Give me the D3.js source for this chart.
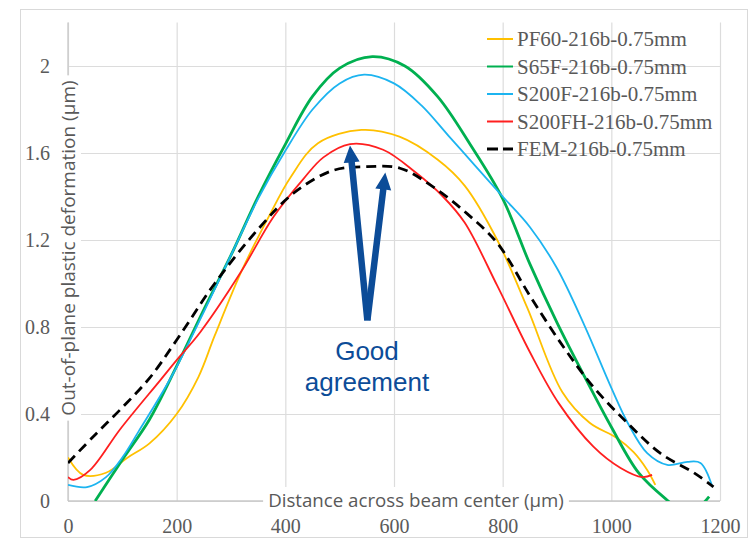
<!DOCTYPE html>
<html>
<head>
<meta charset="utf-8">
<script src="https://cdn.jsdelivr.net/npm/d3@7"></script>
<style>
  html, body { margin: 0; padding: 0; background: #fff; }
  svg { display: block; }
</style>
</head>
<body>
<svg id="chart" width="755" height="540"></svg>
<script>
// tick values
var xTicks = [0, 200, 400, 600, 800, 1000, 1200];
var yTicks = [0, 0.4, 0.8, 1.2, 1.6, 2];

// [distance (µm), deformation (µm)] for each run
var pf60 = [[0, 0.20], [28, 0.12], [70, 0.13], [110, 0.2], [150, 0.265], [200, 0.40], [240, 0.57],
  [270, 0.76], [320, 1.06], [370, 1.31], [410, 1.49], [460, 1.645], [540, 1.706], [610, 1.675],
  [680, 1.57], [730, 1.45], [790, 1.20], [845, 0.89], [910, 0.50], [960, 0.36], [1010, 0.29],
  [1041, 0.225], [1066, 0.143], [1081, 0.074]];
var s65f = [[50, 0], [100, 0.19], [150, 0.375], [200, 0.62], [250, 0.88], [300, 1.13], [350, 1.40],
  [400, 1.64], [450, 1.86], [500, 1.99], [560, 2.043], [620, 2.00], [680, 1.86], [740, 1.64],
  [800, 1.39], [850, 1.09], [900, 0.82], [950, 0.575], [1000, 0.34], [1050, 0.13], [1100, 0.01],
  [1140, -0.06], [1165, -0.02], [1180, 0.02]];
var s200f = [[0, 0.074], [35, 0.064], [70, 0.11], [100, 0.2], [130, 0.32], [190, 0.57], [250, 0.87],
  [300, 1.13], [350, 1.39], [400, 1.61], [450, 1.80], [500, 1.92], [545, 1.96], [600, 1.92],
  [650, 1.82], [700, 1.68], [750, 1.54], [800, 1.40], [850, 1.26], [900, 1.07], [950, 0.81],
  [1000, 0.52], [1030, 0.36], [1066, 0.22], [1103, 0.166], [1140, 0.18], [1164, 0.175], [1186, 0.065]];
var s200fh = [[0, 0.11], [10, 0.097], [41, 0.143], [96, 0.33], [170, 0.556], [200, 0.648], [243, 0.775],
  [317, 1.048], [378, 1.306], [433, 1.48], [470, 1.58], [519, 1.641], [580, 1.615], [640, 1.51],
  [690, 1.40], [730, 1.28], [790, 0.99], [850, 0.685], [903, 0.45], [967, 0.25], [1017, 0.152],
  [1057, 0.11], [1075, 0.12]];
var fem = [[0, 0.175], [50, 0.305], [100, 0.43], [150, 0.565], [200, 0.74], [270, 1.0], [350, 1.25],
  [415, 1.415], [488, 1.52], [550, 1.537], [611, 1.53], [672, 1.444], [735, 1.32], [790, 1.186],
  [851, 0.94], [912, 0.708], [967, 0.524], [1029, 0.36], [1090, 0.22], [1153, 0.128], [1188, 0.065]];

var seriesNames = ["PF60-216b-0.75mm", "S65F-216b-0.75mm", "S200F-216b-0.75mm", "S200FH-216b-0.75mm", "FEM-216b-0.75mm"];

// annotation: arrow tips on the S200FH and FEM peaks, shared tail
var arrowTail = [551, 0.83];
var arrowTips = [[519, 1.635], [584, 1.51]];
var noteLines = ["Good", "agreement"];

var svg = d3.select("#chart");
var x = d3.scaleLinear().domain([0, 1200]).range([68, 720]);
var y = d3.scaleLinear().domain([0, 2.2]).range([501, 22.5]);

var styles = [
  { data: pf60, color: "#ffc000", width: 1.8, dash: null },
  { data: s65f, color: "#00b050", width: 2.8, dash: null },
  { data: s200f, color: "#1cb4f0", width: 1.8, dash: null },
  { data: s200fh, color: "#ff1f1f", width: 1.8, dash: null },
  { data: fem, color: "#000000", width: 2.8, dash: "10,6" }
];

// outer frame
svg.append("rect")
  .attr("x", 20.5).attr("y", 9.5)
  .attr("width", 727).attr("height", 528)
  .attr("fill", "none").attr("stroke", "#d9d9d9");

// grid + x labels
var gx = svg.append("g")
  .attr("transform", "translate(0," + y(0) + ")")
  .call(d3.axisBottom(x).tickValues(xTicks).tickSize(-(y(0) - y(2.2))).tickPadding(18)
    .tickFormat(function (d) { return d; }));
gx.select(".domain").remove();

var gy = svg.append("g")
  .attr("transform", "translate(" + x(0) + ",0)")
  .call(d3.axisLeft(y).tickValues(yTicks).tickSize(-(x(1200) - x(0))).tickPadding(18)
    .tickFormat(function (d) { return d; }));
gy.select(".domain").remove();

svg.selectAll(".tick line").attr("stroke", "#dcdcdc").attr("stroke-width", 1.2);
svg.selectAll(".tick text")
  .attr("fill", "#5a5a5a")
  .style("font-family", "'Liberation Serif', 'Times New Roman', serif")
  .style("font-size", "20px");

// axis lines
svg.append("line").attr("x1", x(0)).attr("x2", x(1200)).attr("y1", y(0)).attr("y2", y(0))
  .attr("stroke", "#c8c8c8").attr("stroke-width", 1.3);
svg.append("line").attr("x1", x(0)).attr("x2", x(0)).attr("y1", y(0)).attr("y2", y(2.2))
  .attr("stroke", "#c8c8c8").attr("stroke-width", 1.3);

// series, clipped to the plot area
svg.append("clipPath").attr("id", "plotClip")
  .append("rect").attr("x", x(0)).attr("y", 0).attr("width", x(1200) - x(0) + 5).attr("height", y(0));

var line = d3.line()
  .x(function (d) { return x(d[0]); })
  .y(function (d) { return y(d[1]); })
  .curve(d3.curveCatmullRom.alpha(0.5));

var gLines = svg.append("g").attr("clip-path", "url(#plotClip)");
styles.forEach(function (s) {
  gLines.append("path")
    .attr("d", line(s.data))
    .attr("fill", "none")
    .attr("stroke", s.color)
    .attr("stroke-width", s.width)
    .attr("stroke-dasharray", s.dash);
});

// axis titles sit on a white patch over the axis lines
function titleWithBg(g, text, size) {
  var t = g.append("text").text(text)
    .attr("text-anchor", "middle")
    .attr("fill", "#595959")
    .style("font-family", "'Open Sans', 'Noto Sans', sans-serif")
    .style("font-size", size + "px");
  var b = t.node().getBBox();
  g.insert("rect", "text")
    .attr("x", b.x - 5).attr("y", b.y)
    .attr("width", b.width + 10).attr("height", b.height)
    .attr("fill", "#fff");
}

var xTitle = svg.append("g").attr("transform", "translate(416,507)");
titleWithBg(xTitle, "Distance across beam center (µm)", 18.7);

var yTitle = svg.append("g").attr("transform", "translate(75,248) rotate(-90)");
titleWithBg(yTitle, "Out-of-plane plastic deformation (µm)", 19);

// legend
var legend = svg.append("g").attr("transform", "translate(487,39)");
seriesNames.forEach(function (name, i) {
  var row = legend.append("g").attr("transform", "translate(0," + (i * 27.5) + ")");
  row.append("line")
    .attr("x1", 0).attr("x2", 26).attr("y1", 0).attr("y2", 0)
    .attr("stroke", styles[i].color)
    .attr("stroke-width", styles[i].dash ? 2.8 : 2)
    .attr("stroke-dasharray", styles[i].dash ? "11,5" : null);
  row.append("text")
    .attr("x", 30).attr("y", 7)
    .attr("fill", "#595959")
    .style("font-family", "'Liberation Serif', 'Times New Roman', serif")
    .style("font-size", "21px")
    .text(name);
});

// arrows
var blue = "#0c4c98";
function arrowPath(p0, p1, shaft, headW, headL) {
  var dx = p1[0] - p0[0], dy = p1[1] - p0[1];
  var len = Math.sqrt(dx * dx + dy * dy);
  var ux = dx / len, uy = dy / len, nx = -uy, ny = ux;
  var bx = p1[0] - ux * headL, by = p1[1] - uy * headL;
  var pts = [
    [p0[0] + nx * shaft / 2, p0[1] + ny * shaft / 2],
    [bx + nx * shaft / 2, by + ny * shaft / 2],
    [bx + nx * headW / 2, by + ny * headW / 2],
    p1,
    [bx - nx * headW / 2, by - ny * headW / 2],
    [bx - nx * shaft / 2, by - ny * shaft / 2],
    [p0[0] - nx * shaft / 2, p0[1] - ny * shaft / 2]
  ];
  return "M" + pts.map(function (p) { return p[0] + "," + p[1]; }).join("L") + "Z";
}
arrowTips.forEach(function (tip) {
  svg.append("path")
    .attr("d", arrowPath([x(arrowTail[0]), y(arrowTail[1])], [x(tip[0]), y(tip[1])], 6.5, 16, 17))
    .attr("fill", blue);
});

svg.append("g").selectAll("text").data(noteLines).join("text")
  .attr("x", 367)
  .attr("y", function (d, i) { return 360 + i * 31; })
  .attr("text-anchor", "middle")
  .attr("fill", blue)
  .style("font-family", "'Liberation Sans', Arial, sans-serif")
  .style("font-size", "26px")
  .text(function (d) { return d; });
</script>
</body>
</html>
